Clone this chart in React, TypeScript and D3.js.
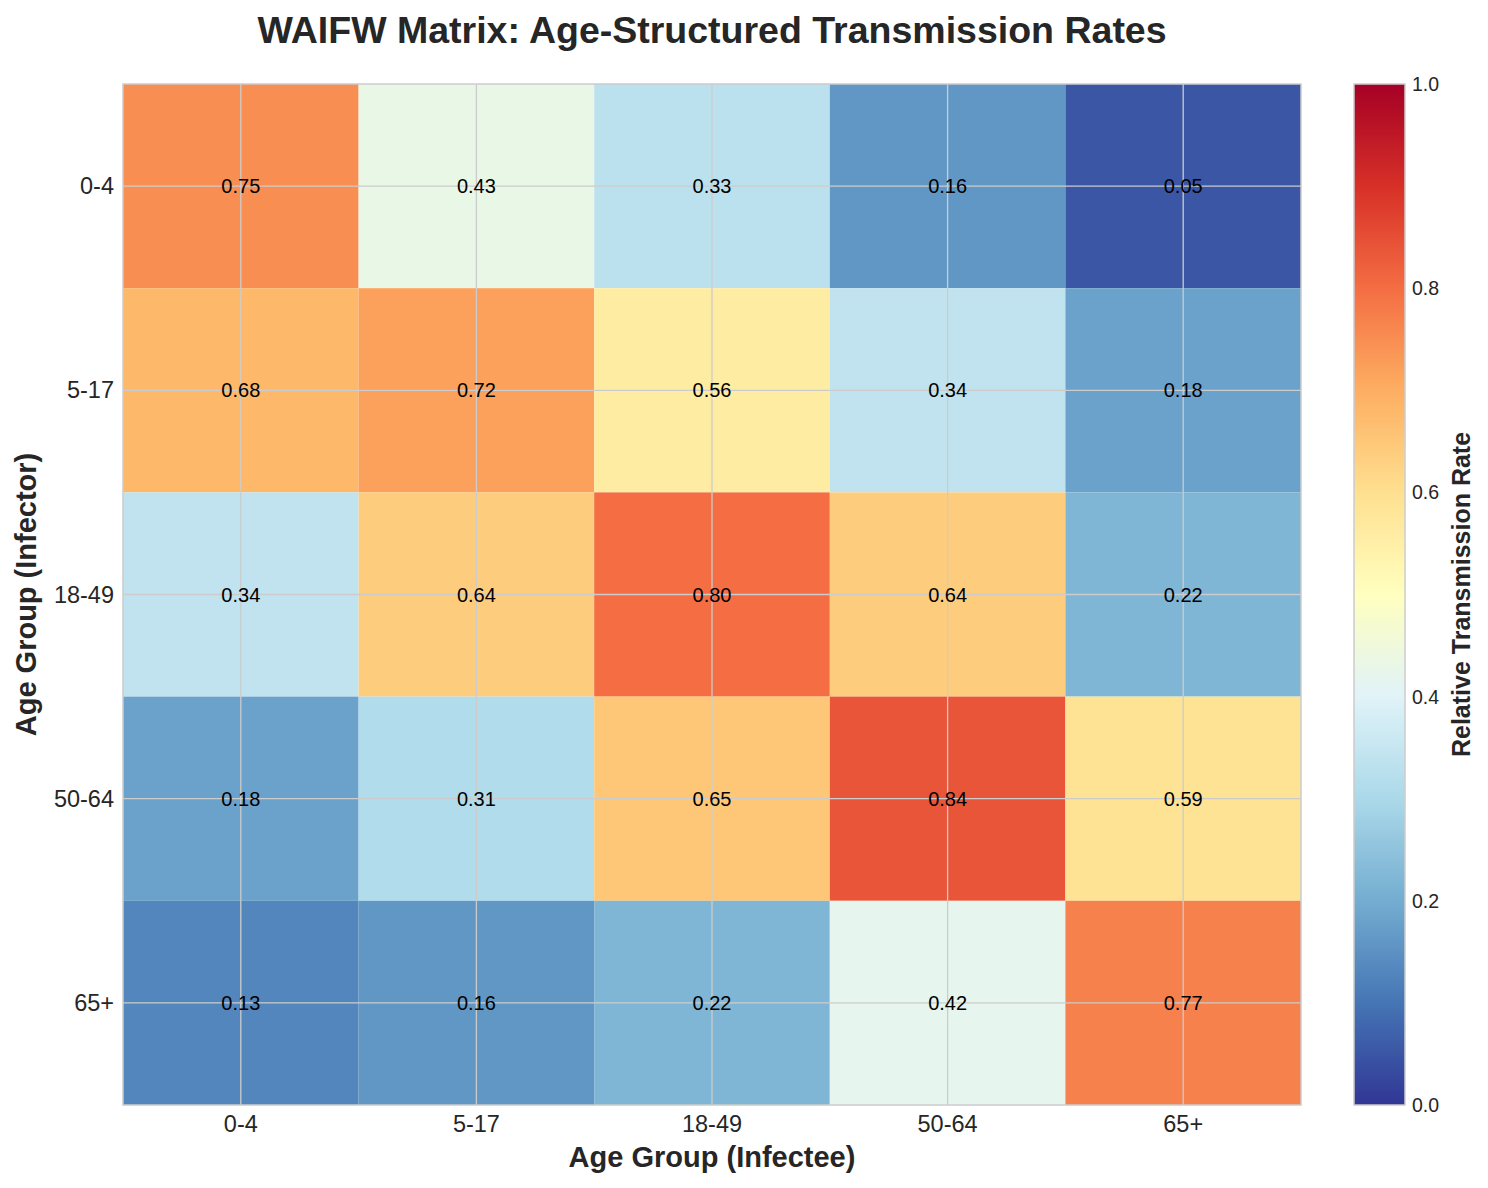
import React from "react";
import * as d3 from "d3";

// infector groups (rows) and infectee groups (columns)
const infectorGroups = ["0-4", "5-17", "18-49", "50-64", "65+"];
const infecteeGroups = ["0-4", "5-17", "18-49", "50-64", "65+"];

const rates0to4 = [0.75, 0.43, 0.33, 0.16, 0.05];
const rates5to17 = [0.68, 0.72, 0.56, 0.34, 0.18];
const rates18to49 = [0.34, 0.64, 0.8, 0.64, 0.22];
const rates50to64 = [0.18, 0.31, 0.65, 0.84, 0.59];
const rates65plus = [0.13, 0.16, 0.22, 0.42, 0.77];

const colorbarTicks = [0, 0.2, 0.4, 0.6, 0.8, 1.0];

// RdYlBu reversed, linear between the brewer stops
const rdylbu = ["#a50026", "#d73027", "#f46d43", "#fdae61", "#fee090", "#ffffbf", "#e0f3f8", "#abd9e9", "#74add1", "#4575b4", "#313695"];
const stops = rdylbu.slice().reverse();

function App() {
  const width = 1488;
  const height = 1188;
  const left = 123, right = 1301, top = 84, bottom = 1105;
  const cbLeft = 1354, cbRight = 1405;
  const font = "'Liberation Sans', Arial, sans-serif";

  const matrix = [rates0to4, rates5to17, rates18to49, rates50to64, rates65plus];

  const x = d3.scaleBand().domain(infecteeGroups).range([left, right]);
  const y = d3.scaleBand().domain(infectorGroups).range([top, bottom]);
  const color = d3.scaleLinear<string>()
    .domain(d3.range(11).map((i) => i / 10))
    .range(stops)
    .interpolate(d3.interpolateRgb)
    .clamp(true);
  const cb = d3.scaleLinear().domain([0, 1]).range([bottom, top]);

  const gradStops = d3.range(0, 101).map((i) => i / 100);

  return (
    <svg width={width} height={height} style={{ display: "block", position: "absolute", left: 0, top: 0, background: "#fff" }}>
      <defs>
        <linearGradient id="cbGrad" x1="0" y1="1" x2="0" y2="0">
          {gradStops.map((t) => (
            <stop key={t} offset={t} stopColor={color(t)} />
          ))}
        </linearGradient>
      </defs>

      <text x={712} y={43} textAnchor="middle" fontFamily={font} fontWeight="bold" fontSize={37.5} fill="#262626">
        WAIFW Matrix: Age-Structured Transmission Rates
      </text>

      {/* cells */}
      {matrix.map((row, i) =>
        row.map((v, j) => (
          <rect key={`c${i}-${j}`} x={x(infecteeGroups[j])} y={y(infectorGroups[i])}
            width={x.bandwidth()} height={y.bandwidth()} fill={color(v)} />
        ))
      )}

      {/* grid */}
      {infecteeGroups.map((g) => (
        <line key={`gx${g}`} x1={x(g)! + x.bandwidth() / 2} x2={x(g)! + x.bandwidth() / 2} y1={top} y2={bottom} stroke="#cccccc" strokeWidth={1.3} />
      ))}
      {infectorGroups.map((g) => (
        <line key={`gy${g}`} y1={y(g)! + y.bandwidth() / 2} y2={y(g)! + y.bandwidth() / 2} x1={left} x2={right} stroke="#cccccc" strokeWidth={1.3} />
      ))}

      {/* values */}
      {matrix.map((row, i) =>
        row.map((v, j) => (
          <text key={`t${i}-${j}`} x={x(infecteeGroups[j])! + x.bandwidth() / 2} y={y(infectorGroups[i])! + y.bandwidth() / 2}
            textAnchor="middle" dominantBaseline="central" fontFamily={font} fontSize={20} fill="#000">
            {v.toFixed(2)}
          </text>
        ))
      )}

      <rect x={left} y={top} width={right - left} height={bottom - top} fill="none" stroke="#cccccc" strokeWidth={1.5} />

      {/* axis ticks */}
      {infecteeGroups.map((g) => (
        <text key={`xt${g}`} x={x(g)! + x.bandwidth() / 2} y={1124} textAnchor="middle" dominantBaseline="central"
          fontFamily={font} fontSize={23.5} fill="#262626">{g}</text>
      ))}
      {infectorGroups.map((g) => (
        <text key={`yt${g}`} x={114} y={y(g)! + y.bandwidth() / 2} textAnchor="end" dominantBaseline="central"
          fontFamily={font} fontSize={23.5} fill="#262626">{g}</text>
      ))}

      <text x={(left + right) / 2} y={1167} textAnchor="middle" fontFamily={font} fontWeight="bold" fontSize={29} fill="#262626">
        Age Group (Infectee)
      </text>
      <text transform={`translate(36, ${(top + bottom) / 2}) rotate(-90)`} textAnchor="middle" fontFamily={font}
        fontWeight="bold" fontSize={29} fill="#262626">
        Age Group (Infector)
      </text>

      {/* colorbar */}
      <rect x={cbLeft} y={top} width={cbRight - cbLeft} height={bottom - top} fill="url(#cbGrad)" stroke="#cccccc" strokeWidth={1.5} />
      {colorbarTicks.map((t) => (
        <text key={`cb${t}`} x={cbRight + 7} y={cb(t)} dominantBaseline="central" fontFamily={font} fontSize={19.5} fill="#262626">
          {t.toFixed(1)}
        </text>
      ))}
      <text transform={`translate(1470, ${(top + bottom) / 2}) rotate(-90)`} textAnchor="middle" fontFamily={font}
        fontWeight="bold" fontSize={25} fill="#262626">
        Relative Transmission Rate
      </text>
    </svg>
  );
}

export default App;
